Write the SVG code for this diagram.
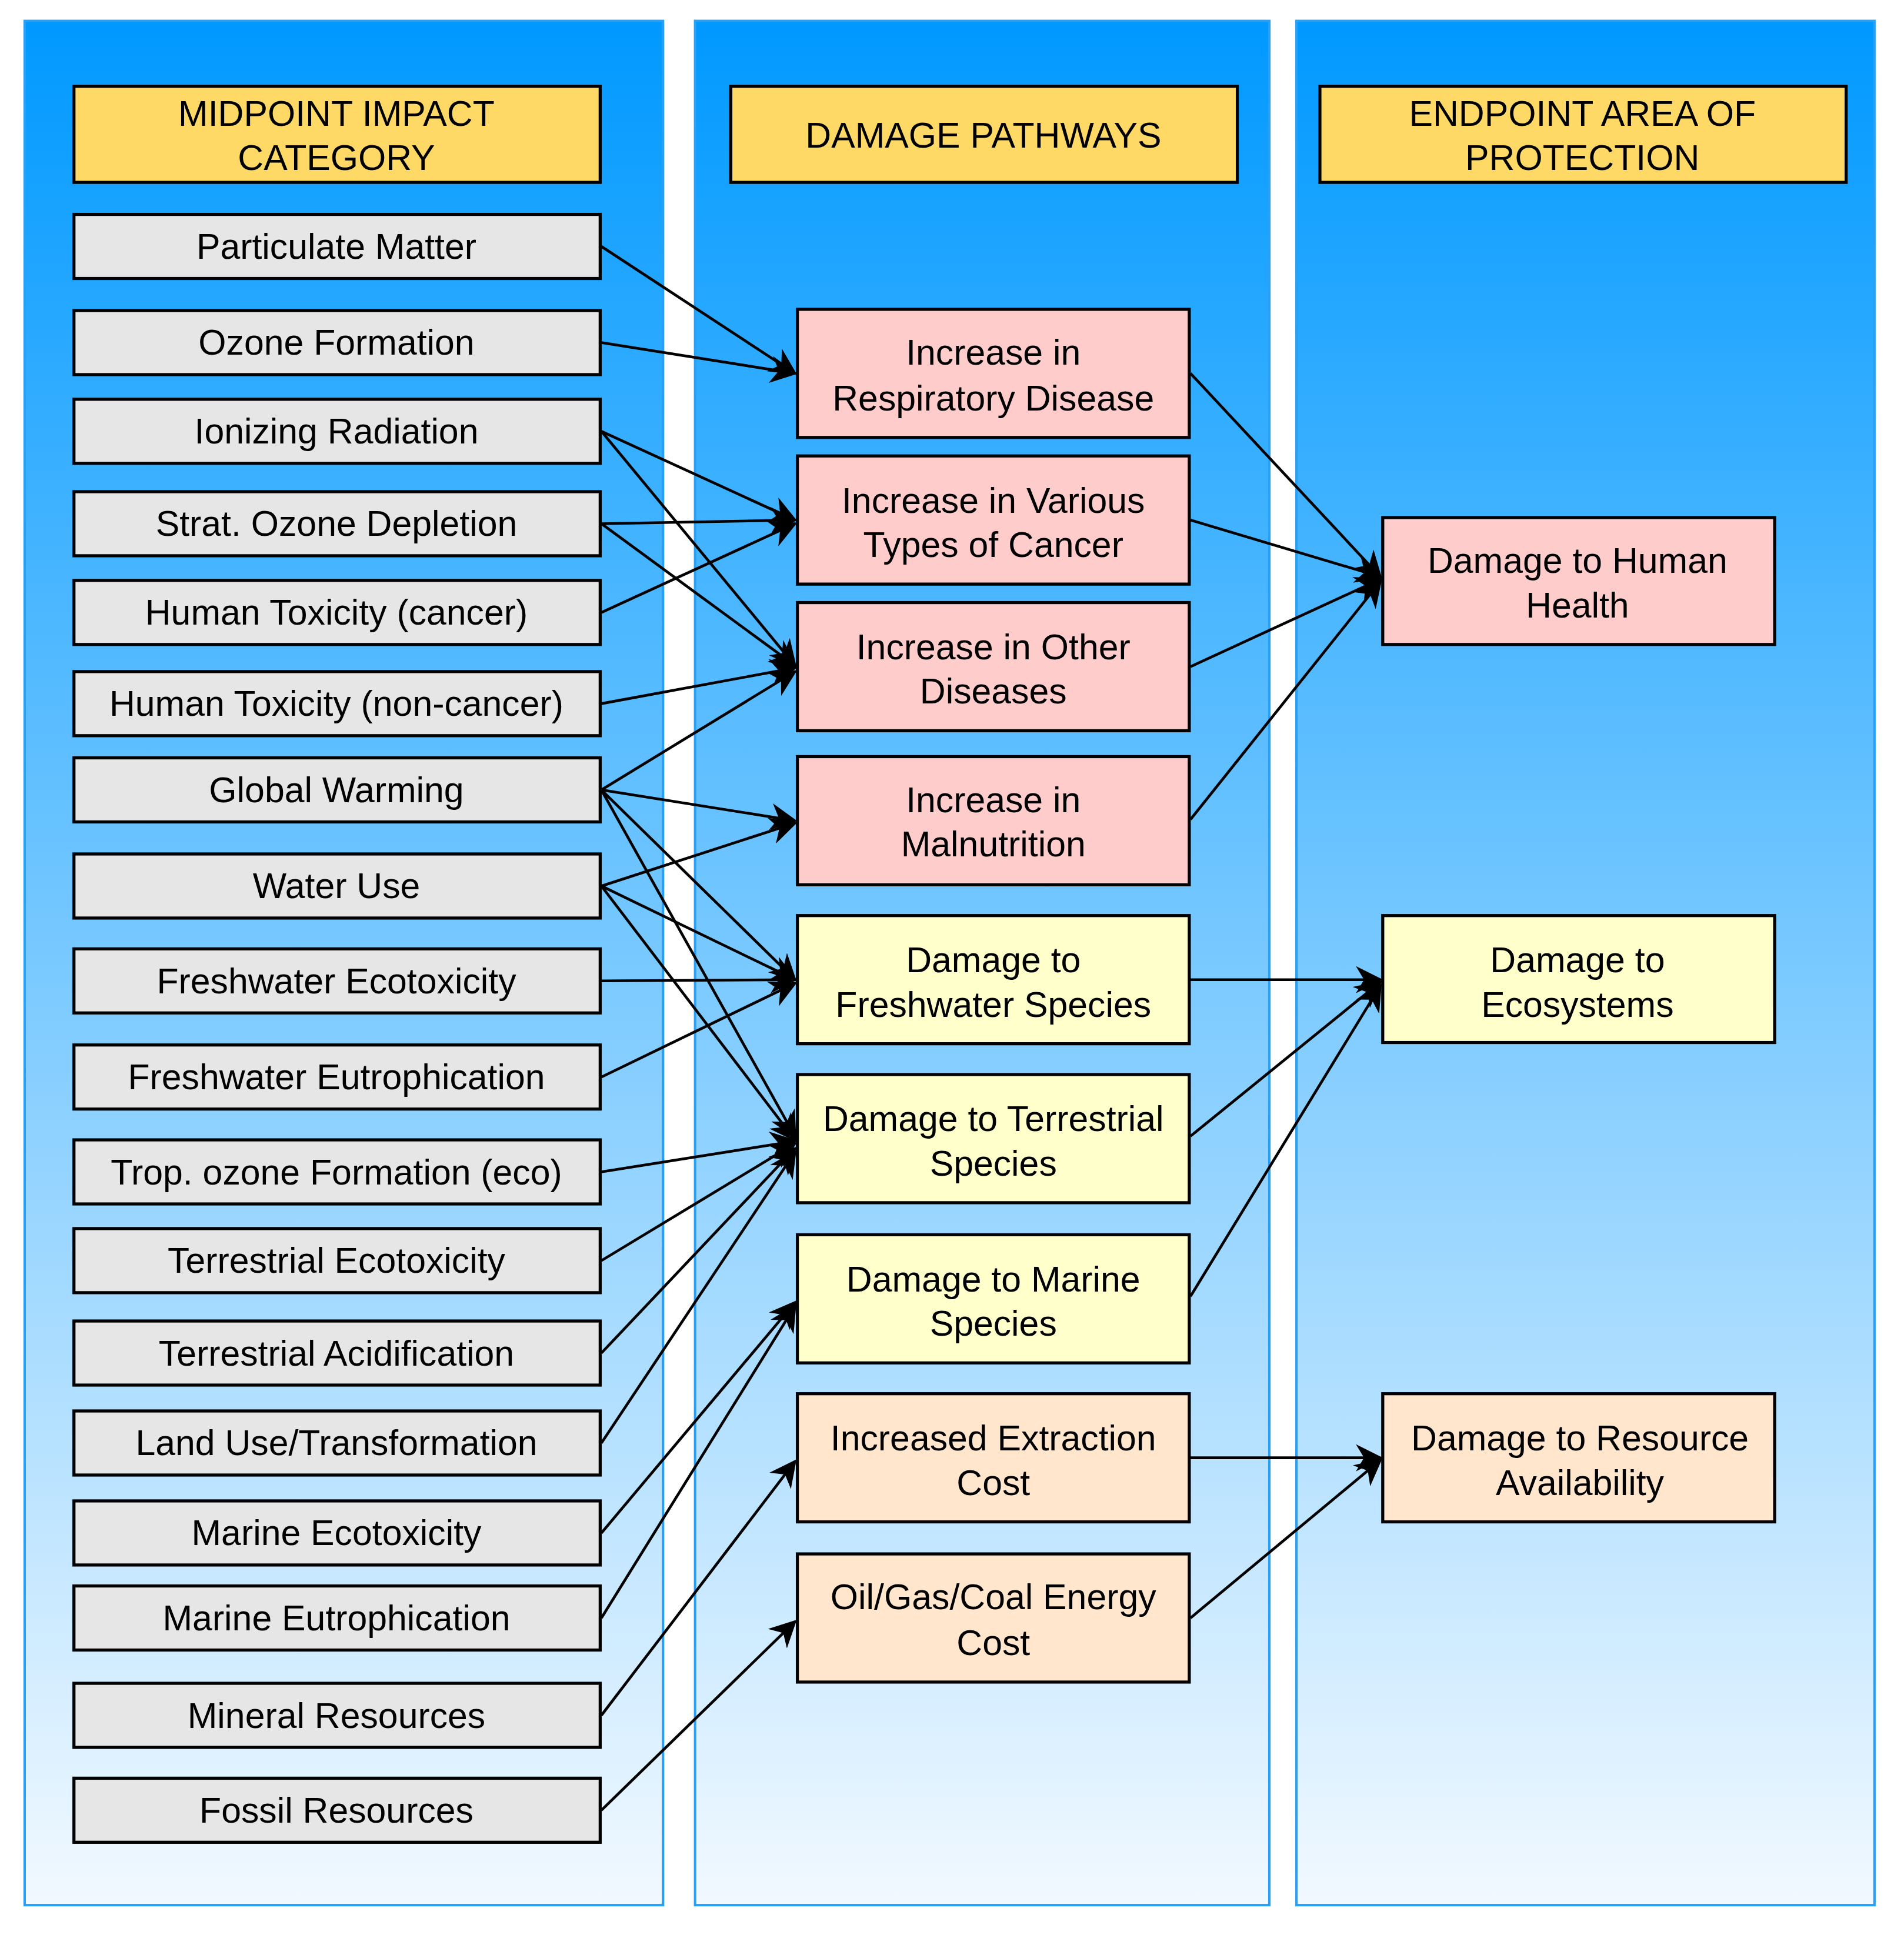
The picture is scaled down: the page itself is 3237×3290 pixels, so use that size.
<svg xmlns="http://www.w3.org/2000/svg" width="3237" height="3290" viewBox="0 0 3237 3290">
<defs>
<linearGradient id="bg" x1="0" y1="0" x2="0" y2="1"><stop offset="0" stop-color="#0099ff"/><stop offset="1" stop-color="#f2f9ff"/></linearGradient>
<marker id="ah" viewBox="0 0 10 10" refX="9" refY="5" markerWidth="22" markerHeight="22" markerUnits="userSpaceOnUse" orient="auto"><path d="M0,0 L10,5 L0,10 L3,5 z" fill="#000"/></marker>
<style>
.pn{fill:url(#bg);stroke:#2aa0f5;stroke-width:2}
.b{stroke:#000;stroke-width:2.5}
.hd{fill:#ffd966}.gr{fill:#e6e6e6}.pk{fill:#ffcccc}.yl{fill:#ffffcc}.or{fill:#ffe6cc}
text{font-family:"Liberation Sans",Arial,sans-serif;font-size:29px;fill:#000;text-anchor:middle;dominant-baseline:central}
.e path{fill:none;stroke:#000;stroke-width:2.2;marker-end:url(#ah)}
</style>
</defs>
<rect width="3237" height="3290" fill="#fff"/>
<g transform="scale(2.0952)">
<rect class="pn" x="20" y="17" width="518" height="1529"/>
<rect class="pn" x="564" y="17" width="466" height="1529"/>
<rect class="pn" x="1052" y="17" width="469" height="1529"/>

<g id="h1"><rect class="b hd" x="60" y="70" width="427" height="78"/><text x="273" y="92">MIDPOINT IMPACT</text><text x="273" y="128">CATEGORY</text></g>
<g id="h2"><rect class="b hd" x="593" y="70" width="411" height="78"/><text x="798" y="110">DAMAGE PATHWAYS</text></g>
<g id="h3"><rect class="b hd" x="1071" y="70" width="427" height="78"/><text x="1284" y="92">ENDPOINT AREA OF</text><text x="1284" y="128">PROTECTION</text></g>

<g id="m1"><rect class="b gr" x="60" y="174" width="427" height="52"/><text x="273" y="200">Particulate Matter</text></g>
<g id="m2"><rect class="b gr" x="60" y="252" width="427" height="52"/><text x="273" y="278">Ozone Formation</text></g>
<g id="m3"><rect class="b gr" x="60" y="324" width="427" height="52"/><text x="273" y="350">Ionizing Radiation</text></g>
<g id="m4"><rect class="b gr" x="60" y="399" width="427" height="52"/><text x="273" y="425">Strat. Ozone Depletion</text></g>
<g id="m5"><rect class="b gr" x="60" y="471" width="427" height="52"/><text x="273" y="497">Human Toxicity (cancer)</text></g>
<g id="m6"><rect class="b gr" x="60" y="545" width="427" height="52"/><text x="273" y="571">Human Toxicity (non-cancer)</text></g>
<g id="m7"><rect class="b gr" x="60" y="615" width="427" height="52"/><text x="273" y="641">Global Warming</text></g>
<g id="m8"><rect class="b gr" x="60" y="693" width="427" height="52"/><text x="273" y="719">Water Use</text></g>
<g id="m9"><rect class="b gr" x="60" y="770" width="427" height="52"/><text x="273" y="796">Freshwater Ecotoxicity</text></g>
<g id="m10"><rect class="b gr" x="60" y="848" width="427" height="52"/><text x="273" y="874">Freshwater Eutrophication</text></g>
<g id="m11"><rect class="b gr" x="60" y="925" width="427" height="52"/><text x="273" y="951">Trop. ozone Formation (eco)</text></g>
<g id="m12"><rect class="b gr" x="60" y="997" width="427" height="52"/><text x="273" y="1023">Terrestrial Ecotoxicity</text></g>
<g id="m13"><rect class="b gr" x="60" y="1072" width="427" height="52"/><text x="273" y="1098">Terrestrial Acidification</text></g>
<g id="m14"><rect class="b gr" x="60" y="1145" width="427" height="52"/><text x="273" y="1171">Land Use/Transformation</text></g>
<g id="m15"><rect class="b gr" x="60" y="1218" width="427" height="52"/><text x="273" y="1244">Marine Ecotoxicity</text></g>
<g id="m16"><rect class="b gr" x="60" y="1287" width="427" height="52"/><text x="273" y="1313">Marine Eutrophication</text></g>
<g id="m17"><rect class="b gr" x="60" y="1366" width="427" height="52"/><text x="273" y="1392">Mineral Resources</text></g>
<g id="m18"><rect class="b gr" x="60" y="1443" width="427" height="52"/><text x="273" y="1469">Fossil Resources</text></g>

<g id="d1"><rect class="b pk" x="647" y="251" width="318" height="104"/><text x="806" y="286">Increase in</text><text x="806" y="323">Respiratory Disease</text></g>
<g id="d2"><rect class="b pk" x="647" y="370" width="318" height="104"/><text x="806" y="406">Increase in Various</text><text x="806" y="442">Types of Cancer</text></g>
<g id="d3"><rect class="b pk" x="647" y="489" width="318" height="104"/><text x="806" y="525">Increase in Other</text><text x="806" y="561">Diseases</text></g>
<g id="d4"><rect class="b pk" x="647" y="614" width="318" height="104"/><text x="806" y="649">Increase in</text><text x="806" y="685">Malnutrition</text></g>
<g id="d5"><rect class="b yl" x="647" y="743" width="318" height="104"/><text x="806" y="779">Damage to</text><text x="806" y="815">Freshwater Species</text></g>
<g id="d6"><rect class="b yl" x="647" y="872" width="318" height="104"/><text x="806" y="908">Damage to Terrestrial</text><text x="806" y="944">Species</text></g>
<g id="d7"><rect class="b yl" x="647" y="1002" width="318" height="104"/><text x="806" y="1038">Damage to Marine</text><text x="806" y="1074">Species</text></g>
<g id="d8"><rect class="b or" x="647" y="1131" width="318" height="104"/><text x="806" y="1167">Increased Extraction</text><text x="806" y="1203">Cost</text></g>
<g id="d9"><rect class="b or" x="647" y="1261" width="318" height="104"/><text x="806" y="1296">Oil/Gas/Coal Energy</text><text x="806" y="1333">Cost</text></g>

<g id="e1"><rect class="b pk" x="1122" y="420" width="318" height="103"/><text x="1280" y="455">Damage to Human</text><text x="1280" y="491">Health</text></g>
<g id="e2"><rect class="b yl" x="1122" y="743" width="318" height="103"/><text x="1280" y="779">Damage to</text><text x="1280" y="815">Ecosystems</text></g>
<g id="e3"><rect class="b or" x="1122" y="1131" width="318" height="104"/><text x="1282" y="1167">Damage to Resource</text><text x="1282" y="1203">Availability</text></g>

<g id="connectors" class="e">
<path d="M488,200 L645,303"/>
<path d="M488,278 L645,303"/>
<path d="M488,350 L645,422"/>
<path d="M488,350 L645,540"/>
<path d="M488,425 L645,422"/>
<path d="M488,425 L645,540"/>
<path d="M488,497 L645,425"/>
<path d="M488,571 L645,542"/>
<path d="M488,641 L645,545"/>
<path d="M488,641 L645,666"/>
<path d="M488,641 L645,795"/>
<path d="M488,641 L645,922"/>
<path d="M488,719 L645,668"/>
<path d="M488,719 L645,795"/>
<path d="M488,719 L645,925"/>
<path d="M488,796 L645,795"/>
<path d="M488,874 L645,798"/>
<path d="M488,951 L645,926"/>
<path d="M488,1023 L645,928"/>
<path d="M488,1098 L645,932"/>
<path d="M488,1171 L645,935"/>
<path d="M488,1244 L645,1057"/>
<path d="M488,1313 L645,1060"/>
<path d="M488,1392 L645,1186"/>
<path d="M488,1469 L645,1316"/>
<path d="M966,303 L1120,468"/>
<path d="M966,422 L1120,468"/>
<path d="M966,541 L1120,470"/>
<path d="M966,665 L1120,472"/>
<path d="M966,795 L1120,795"/>
<path d="M966,922 L1120,797"/>
<path d="M966,1052 L1120,800"/>
<path d="M966,1183 L1120,1183"/>
<path d="M966,1313 L1120,1185"/>
</g>
</g>
</svg>
